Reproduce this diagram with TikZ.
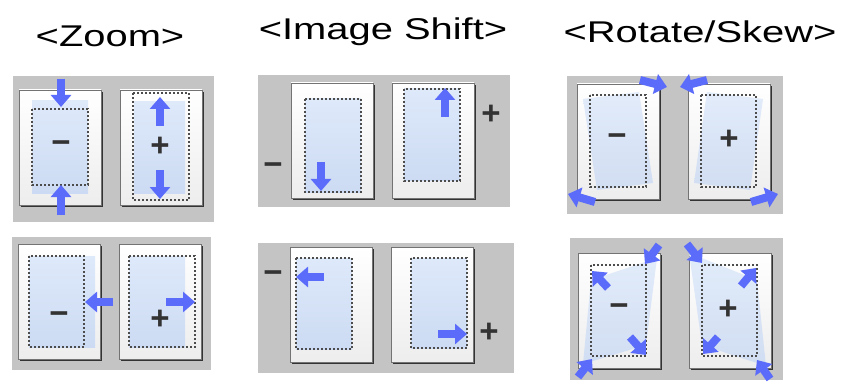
\documentclass[tikz,border=0pt]{standalone}
\usepackage{fontspec}
\usepackage{graphicx}
\setmainfont{Liberation Sans}
\usepackage{tikz}
\usetikzlibrary{arrows.meta}
\definecolor{panelgray}{RGB}{196,196,196}
\definecolor{areatop}{RGB}{222,233,250}
\definecolor{areabot}{RGB}{204,219,243}
\definecolor{arrowblue}{RGB}{92,108,250}
\definecolor{signgray}{RGB}{51,51,51}
% a sheet with its top-left corner at (#1,#2)
\newcommand{\sheet}[2]{%
  \fill[black!80] (#1+2,#2+2) rectangle (#1+84,#2+117);
  \shade[top color=white,bottom color=black!7] (#1,#2) rectangle (#1+82,#2+115);
  \draw[black!55,line width=0.8pt] (#1,#2) rectangle (#1+82,#2+115);
}

\begin{document}
\begin{tikzpicture}[x=1pt,y=-1pt,
  fatarrow/.style={draw=arrowblue,line width=8pt,-{Triangle[length=12pt,width=20pt]}},
  dashbox/.style={draw=black!70,line width=1.2pt,dash pattern=on 2pt off 2pt},
  imgarea/.style={top color=areatop,bottom color=areabot},
  sign/.style={text=signgray,inner sep=0pt,font=\fontsize{33}{33}\selectfont\bfseries},
  heading/.style={anchor=base,inner sep=0pt,font=\fontsize{30}{30}\selectfont}]
  \useasboundingbox (0,0) rectangle (845,382);
  % --- headings ---
  \node[heading] (hzoom) at (110,47) {\scalebox{1.33}[1]{<Zoom>}};
  \node[heading] (hshift) at (383,40) {\scalebox{1.33}[1]{<Image Shift>}};
  \node[heading] (hrot) at (700,43) {\scalebox{1.33}[1]{<Rotate/Skew>}};
  % --- zoom, vertical ---
  \fill[panelgray] (13,76) rectangle (214,222);
  \sheet{19}{90} \sheet{120}{90}
  \shade[imgarea] (32,101) rectangle (88,193);
  \draw[dashbox] (32,109) rectangle (88,185);
  \shade[imgarea] (134,102) rectangle (185,193);
  \draw[dashbox] (133,93) rectangle (189,200);
  \draw[fatarrow] (61,79) -- (61,107);
  \draw[fatarrow] (61,215) -- (61,185);
  \draw[fatarrow] (160,126) -- (160,97);
  \draw[fatarrow] (160,170) -- (160,199);
  \node[sign] (zvminus) at (61,147) {−};
  \node[sign] (zvplus) at (160,147) {+};
  % --- zoom, horizontal ---
  \fill[panelgray] (12,237) rectangle (211,370);
  \sheet{18}{244} \sheet{119}{244}
  \shade[imgarea] (29,256) rectangle (95,347);
  \draw[dashbox] (29,256) rectangle (84,347);
  \shade[imgarea] (129,256) rectangle (185,347);
  \draw[dashbox] (129,256) rectangle (195,347);
  \draw[fatarrow] (113,302) -- (85,302);
  \draw[fatarrow] (166,302) -- (195,302);
  \node[sign] (zhminus) at (59,318) {−};
  \node[sign] (zhplus) at (160,320) {+};
  % --- image shift, vertical ---
  \fill[panelgray] (258,75) rectangle (510,207);
  \sheet{291}{83} \sheet{392}{83}
  \shade[imgarea] (305,99) rectangle (361,192);
  \draw[dashbox] (305,99) rectangle (361,192);
  \shade[imgarea] (404,89) rectangle (460,181);
  \draw[dashbox] (404,89) rectangle (460,181);
  \draw[fatarrow] (321,162) -- (321,191);
  \draw[fatarrow] (445,117) -- (445,88);
  \node[sign] (svminus) at (273,169) {−};
  \node[sign] (svplus) at (491,115) {+};
  % --- image shift, horizontal ---
  \fill[panelgray] (258,243) rectangle (514,373);
  \sheet{290}{247} \sheet{391}{247}
  \shade[imgarea] (296,258) rectangle (352,349);
  \draw[dashbox] (296,258) rectangle (352,349);
  \shade[imgarea] (411,258) rectangle (467,348);
  \draw[dashbox] (411,258) rectangle (467,348);
  \draw[fatarrow] (324,277) -- (296,277);
  \draw[fatarrow] (438,334) -- (467,334);
  \node[sign] (shminus) at (273,277) {−};
  \node[sign] (shplus) at (489,333) {+};
  % --- rotate ---
  \fill[panelgray] (567,76) rectangle (783,214);
  \sheet{577}{84} \sheet{688}{84}
  \shade[imgarea,opacity=0.85] (583,99) -- (639,92) -- (653,183) -- (597,190) -- cycle;
  \draw[dashbox] (590,95) rectangle (646,187);
  \shade[imgarea,opacity=0.85] (707,92) -- (763,99) -- (750,190) -- (694,183) -- cycle;
  \draw[dashbox] (701,95) rectangle (756,187);
  \draw[fatarrow] (640,80) -- (667,87);
  \draw[fatarrow] (595,202) -- (568,194);
  \draw[fatarrow] (707,80) -- (680,87);
  \draw[fatarrow] (751,202) -- (778,194);
  \node[sign] (rminus) at (617,140) {−};
  \node[sign] (rplus) at (729,140) {+};
  % --- skew ---
  \fill[panelgray] (570,238) rectangle (783,380);
  \sheet{578}{253} \sheet{689}{253}
  \shade[imgarea,opacity=0.85] (591,280) -- (657,258) -- (646,345) -- (583,364) -- cycle;
  \draw[dashbox] (591,265) rectangle (646,356);
  \shade[imgarea,opacity=0.85] (689,253) -- (757,280) -- (766,366) -- (702,345) -- cycle;
  \draw[dashbox] (702,265) rectangle (757,356);
  \draw[fatarrow] (659,245) -- (645,264);
  \draw[fatarrow] (608,288) -- (592,271);
  \draw[fatarrow] (630,337) -- (646,355);
  \draw[fatarrow] (578,377) -- (592,359);
  \draw[fatarrow] (687,244) -- (702,263);
  \draw[fatarrow] (741,286) -- (756,268);
  \draw[fatarrow] (718,337) -- (703,354);
  \draw[fatarrow] (770,379) -- (757,360);
  \node[sign] (sminus) at (619,310) {−};
  \node[sign] (splus) at (728,310) {+};
\end{tikzpicture}
\end{document}
